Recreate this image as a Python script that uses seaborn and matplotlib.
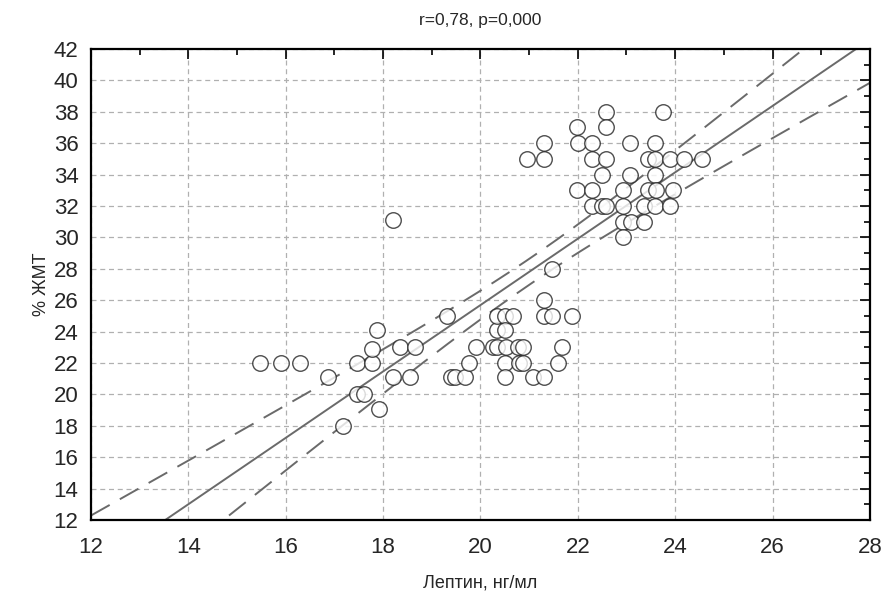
import matplotlib.pyplot as plt
import seaborn as sns
import pandas as pd
import numpy as np
from matplotlib.ticker import MultipleLocator

# values
leptin = [15.47, 15.91, 16.29, 16.87, 17.18, 17.47, 17.47, 17.61, 17.78, 17.78,
          17.88, 17.92, 18.21, 18.2, 18.35, 18.56, 18.65, 19.32, 19.4, 19.47,
          19.69, 19.76, 19.9, 20.26, 20.35, 20.35, 20.35, 20.5, 20.67, 20.5,
          20.53, 20.77, 20.87, 20.5, 20.8, 20.87, 20.5, 21.08, 21.3, 21.3,
          21.3, 21.46, 21.89, 21.46, 21.68, 21.6, 20.95, 21.31, 21.31, 21.99,
          22.0, 22.3, 22.3, 22.58, 22.58, 22.58, 22.49, 21.99, 22.3, 22.3,
          22.49, 22.58, 23.08, 23.08, 22.93, 22.93, 22.93, 23.1, 23.37, 22.93,
          23.44, 23.58, 23.89, 24.18, 24.55, 23.58, 23.58, 23.75, 23.44, 23.61,
          23.96, 23.37, 23.58, 23.89]
fat = [22, 22, 22, 21.1, 18, 22, 20, 20, 22, 22.9,
       24.1, 19.05, 21.1, 31.1, 23, 21.1, 23, 25, 21.1, 21.1,
       21.1, 22, 23, 23, 23, 24.1, 25, 25, 25, 24.1,
       23, 23, 23, 22, 22, 22, 21.1, 21.1, 21.1, 26,
       25, 25, 25, 28, 23, 22, 35, 36, 35, 37,
       36, 36, 35, 38, 37, 35, 34, 33, 33, 32,
       32, 32, 36, 34, 33, 32, 31, 31, 31, 30,
       35, 35, 35, 35, 35, 36, 34, 38, 33, 33,
       33, 32, 32, 32]

title = "r=0,78, p=0,000"
x_label = "Лептин, нг/мл"
y_label = "% ЖМТ"

df = pd.DataFrame({"leptin": leptin, "fat": fat})

sns.set_style("white")
plt.rcParams["font.family"] = ["Liberation Sans", "DejaVu Sans"]

fig = plt.figure(figsize=(8.84, 5.97), dpi=100)
ax = fig.add_axes([0.103, 0.129, 0.881, 0.789])
ax.set_xlim(12, 28)
ax.set_ylim(12, 42)

# fit line over the whole axis
sns.regplot(data=df, x="leptin", y="fat", ci=None, truncate=False, ax=ax,
            scatter_kws=dict(s=125, facecolor="white", edgecolor="#222222",
                             linewidths=1.0, zorder=3),
            line_kws=dict(color="#6a6a6a", lw=1.4, zorder=2))

# 95% confidence band of the fit, drawn as dashed lines
x = np.asarray(leptin)
y = np.asarray(fat)
n = len(x)
b, a = np.polyfit(x, y, 1)
resid = y - (a + b * x)
s = np.sqrt(np.sum(resid ** 2) / (n - 2))
sxx = np.sum((x - x.mean()) ** 2)
xs = np.linspace(12, 28, 200)
se = s * np.sqrt(1 / n + (xs - x.mean()) ** 2 / sxx)
yfit = a + b * xs
t = 1.989
for band in (yfit + t * se, yfit - t * se):
    ax.plot(xs, band, color="#6a6a6a", lw=1.4, ls=(0, (11, 6)), zorder=2)

ax.xaxis.set_major_locator(MultipleLocator(2))
ax.xaxis.set_minor_locator(MultipleLocator(1))
ax.yaxis.set_major_locator(MultipleLocator(2))
ax.yaxis.set_minor_locator(MultipleLocator(1))
ax.grid(True, which="major", color="#b0b0b0", ls=(0, (4, 3)), lw=0.9)
ax.tick_params(which="both", direction="in", top=True, right=True,
               labelsize=16, color="black")
ax.tick_params(which="major", length=7, width=1.2)
ax.tick_params(which="minor", length=4, width=1.2)
ax.tick_params(axis="x", which="major", pad=12)
ax.tick_params(axis="y", which="major", pad=9)
for sp in ax.spines.values():
    sp.set_color("black")
    sp.set_linewidth(1.6)

ax.set_title(title, fontsize=12.5, pad=17)
ax.set_xlabel(x_label, fontsize=13, labelpad=12)
ax.set_ylabel(y_label, fontsize=13, labelpad=3)

fig.savefig("out.png", dpi=100)
